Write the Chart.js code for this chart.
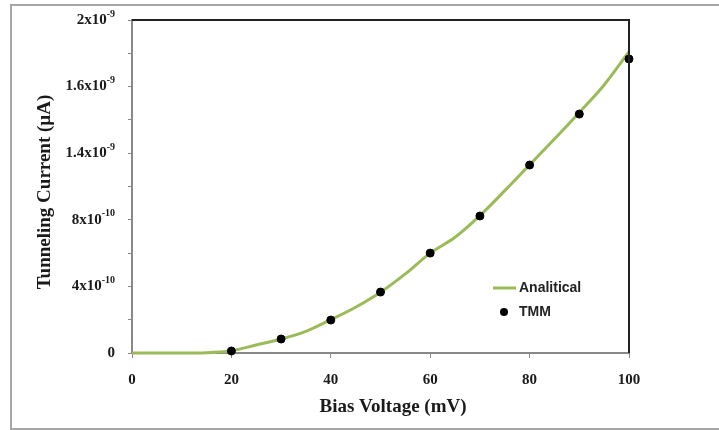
<!DOCTYPE html>
<html>
<head>
<meta charset="utf-8">
<title>Tunneling Current</title>
<script src="https://cdn.jsdelivr.net/npm/chart.js@4.4.0/dist/chart.umd.min.js"></script>
<style>
  body { margin: 0; background: #fff; }
  #wrap { width: 719px; height: 430px; }
</style>
</head>
<body>
<div id="wrap"><canvas id="ivChart" width="719" height="430"></canvas></div>
<script>
// Data
const voltage = [0, 5, 10, 15, 20, 25, 30, 35, 40, 45, 50, 55, 60, 65, 70, 75, 80, 85, 90, 95, 100];
const analytical = [0, 0, 0, 0.002e-9, 0.014e-9, 0.048e-9, 0.084e-9, 0.13e-9, 0.2e-9, 0.275e-9, 0.365e-9,
  0.475e-9, 0.6e-9, 0.695e-9, 0.825e-9, 0.975e-9, 1.13e-9, 1.285e-9, 1.445e-9, 1.61e-9, 1.81e-9];
const tmmVoltage = [20, 30, 40, 50, 60, 70, 80, 90, 100];
const tmmCurrent = [0.012e-9, 0.084e-9, 0.198e-9, 0.366e-9, 0.6e-9, 0.823e-9, 1.129e-9, 1.435e-9, 1.766e-9];

// y tick labels as printed in the original (base + exponent)
const yTickValues = [0, 4e-10, 8e-10, 1.2e-9, 1.6e-9, 2e-9];
const yTickBase = ['0', '4x10', '8x10', '1.4x10', '1.6x10', '2x10'];
const yTickExp = ['', '-10', '-10', '-9', '-9', '-9'];
const xTicks = [0, 20, 40, 60, 80, 100];

const green = '#9bbb59';
const serif = '"Liberation Serif", "Times New Roman", serif';
const sans = '"Liberation Sans", Arial, sans-serif';

const lineData = voltage.map((v, i) => ({ x: v, y: analytical[i] }));
const tmmData = tmmVoltage.map((v, i) => ({ x: v, y: tmmCurrent[i] }));

// outer frame, top/right border, y labels with superscripts, titles, legend
const decorPlugin = {
  id: 'decor',
  beforeDraw(chart) {
    const c = chart.ctx;
    c.save();
    c.fillStyle = '#fff';
    c.fillRect(0, 0, chart.width, chart.height);
    c.strokeStyle = '#a6a6a6';
    c.lineWidth = 2;
    c.strokeRect(11, 5, chart.width, chart.height - 6);
    c.restore();
  },
  afterDatasetsDraw(chart) {
    const c = chart.ctx;
    const a = chart.chartArea;
    const y = chart.scales.y;
    c.save();
    // top and right border in black
    c.strokeStyle = '#222';
    c.lineWidth = 2;
    c.beginPath();
    c.moveTo(a.left, a.top);
    c.lineTo(a.right, a.top);
    c.lineTo(a.right, a.bottom);
    c.stroke();

    // y tick labels
    c.fillStyle = '#1a1a1a';
    c.textBaseline = 'middle';
    yTickValues.forEach((v, i) => {
      const py = y.getPixelForValue(v);
      c.font = 'bold 10px ' + serif;
      const we = c.measureText(yTickExp[i]).width;
      c.font = 'bold 15px ' + serif;
      const wb = c.measureText(yTickBase[i]).width;
      const right = a.left - 17;
      c.textAlign = 'left';
      c.fillText(yTickBase[i], right - we - wb, py);
      c.font = 'bold 10px ' + serif;
      c.fillText(yTickExp[i], right - we, py - 6);
    });

    // axis titles
    c.font = 'bold 19px ' + serif;
    c.textAlign = 'center';
    c.fillText('Bias Voltage (mV)', a.left + 261, 407);
    c.save();
    c.translate(45, a.top + 172);
    c.rotate(-Math.PI / 2);
    c.fillText('Tunneling Current (µA)', 0, 0);
    c.restore();

    // legend
    const lx = a.left + 361;
    const ly = a.top + 268;
    c.strokeStyle = green;
    c.lineWidth = 3;
    c.beginPath();
    c.moveTo(lx, ly);
    c.lineTo(lx + 23, ly);
    c.stroke();
    c.fillStyle = '#000';
    c.beginPath();
    c.arc(lx + 11, ly + 24, 4, 0, Math.PI * 2);
    c.fill();
    c.fillStyle = '#222';
    c.font = 'bold 14px ' + sans;
    c.textAlign = 'left';
    c.fillText('Analitical', lx + 26, ly);
    c.fillText('TMM', lx + 26, ly + 24);
    c.restore();
  }
};

new Chart(document.getElementById('ivChart'), {
  type: 'scatter',
  data: {
    datasets: [
      {
        label: 'TMM',
        data: tmmData,
        showLine: false,
        pointRadius: 4,
        pointHoverRadius: 4,
        pointBackgroundColor: '#000',
        pointBorderColor: '#000',
        clip: false
      },
      {
        label: 'Analitical',
        data: lineData,
        showLine: true,
        borderColor: green,
        borderWidth: 3,
        pointRadius: 0,
        cubicInterpolationMode: 'monotone',
        clip: false
      }
    ]
  },
  options: {
    responsive: false,
    animation: false,
    layout: { padding: { left: 0, top: 20, right: 90, bottom: 0 } },
    plugins: {
      legend: { display: false },
      tooltip: { enabled: false }
    },
    scales: {
      x: {
        type: 'linear',
        min: 0,
        max: 100,
        afterFit: s => { s.height = 77; },
        afterBuildTicks: s => { s.ticks = xTicks.map(v => ({ value: v })); },
        grid: { drawOnChartArea: false, drawTicks: true, tickLength: 5, tickColor: '#888' },
        border: { color: '#888', width: 2 },
        ticks: {
          color: '#1a1a1a',
          padding: 13,
          maxRotation: 0,
          font: { family: serif, size: 15, weight: 'bold' }
        }
      },
      y: {
        type: 'linear',
        min: 0,
        max: 2e-9,
        afterFit: s => { s.width = 132; },
        ticks: {
          stepSize: 2e-10,
          callback: () => '',
          padding: 0
        },
        grid: { drawOnChartArea: false, drawTicks: true, tickLength: 4, tickColor: '#888' },
        border: { color: '#888', width: 2 }
      }
    }
  },
  plugins: [decorPlugin]
});
</script>
</body>
</html>
